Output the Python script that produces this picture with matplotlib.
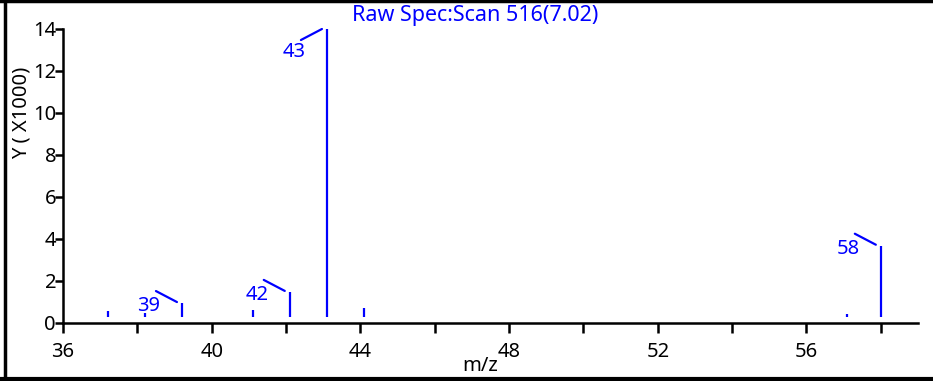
#!/usr/bin/env python3

import matplotlib
matplotlib.use("Agg")
import matplotlib.pyplot as plt
import matplotlib.transforms as mtransforms
from matplotlib.lines import Line2D

# peaks of the mass spectrum (m/z, intensity in thousands)
mz = [37.2, 38.2, 39.2, 41.1, 42.1, 43.1, 44.1, 57.1, 58.0]
intensity = [0.57, 0.5, 0.95, 0.62, 1.48, 14.0, 0.72, 0.43, 3.68]

# labelled peaks
labelPeaks = [39.2, 42.1, 43.1, 58.0]
labelTexts = ["39", "42", "43", "58"]

xTicks = [36, 38, 40, 42, 44, 46, 48, 50, 52, 54, 56, 58]
xTickLabels = ["36", "", "40", "", "44", "", "48", "", "52", "", "56", ""]
yTicks = [0, 2, 4, 6, 8, 10, 12, 14]

W, H = 933, 381
FS = 14.5
plt.rcParams['font.family'] = ['Noto Sans', 'DejaVu Sans']

fig = plt.figure(figsize=(W / 100, H / 100), dpi=100)
ax = fig.add_axes([63 / W, 1 - 323 / H, (918 - 63) / W, (323 - 29) / H])

blue = "#0000ff"
baseline = 0.27
ax.vlines(mz, baseline, intensity, color=blue, linewidth=1.6)

ax.set_xlim(36, 59)
ax.set_ylim(0, 14)
ax.set_xticks(xTicks)
ax.set_xticklabels(xTickLabels)
ax.set_yticks(yTicks)
for s in ["top", "right"]:
    ax.spines[s].set_visible(False)
for s in ["left", "bottom"]:
    ax.spines[s].set_linewidth(1.8)
ax.tick_params(axis="x", length=7, width=1.8, pad=7, labelsize=FS)
ax.tick_params(axis="y", length=6, width=1.8, pad=-1, labelsize=FS)

fig.text(22 / W, 1 - 113 / H, "Y ( X1000)", rotation=90, ha="center",
         va="center", fontsize=FS)

# peak labels with small connector lines
for x, txt in zip(labelPeaks, labelTexts):
    y = intensity[mz.index(x)]
    if y > 13:
        textOff = (-33, -23)
        lineStart = (-21, -11)
        lineEnd = (-5, 0)
    else:
        textOff = (-33, -3)
        lineStart = (-21, 11)
        lineEnd = (-5, 1)
    ax.annotate(txt, xy=(x, y), xytext=textOff, textcoords="offset pixels",
                ha="center", va="center", color=blue, fontsize=FS)
    endTrans = mtransforms.offset_copy(ax.transData, fig=fig, x=lineEnd[0],
                                       y=lineEnd[1], units="dots")
    ax.annotate("", xy=(x, y), xycoords=endTrans, xytext=lineStart,
                textcoords="offset pixels",
                arrowprops=dict(arrowstyle="-", color=blue, linewidth=1.6,
                                shrinkA=0, shrinkB=0))

fig.text(475 / W, 1 - 16 / H, "Raw Spec:Scan 516(7.02)", color=blue,
         ha="center", va="center", fontsize=15.5)
fig.text(480 / W, 1 - 366 / H, "m/z", ha="center", va="center", fontsize=FS)

# frame around the picture (left, top, bottom)
fig.add_artist(Line2D([5 / W, 5 / W], [0, 1], color="black", linewidth=2.5, zorder=10))
fig.add_artist(Line2D([0, 1], [1 - 1 / H, 1 - 1 / H], color="black", linewidth=2.5, zorder=10))
fig.add_artist(Line2D([0, 1], [1 - 379 / H, 1 - 379 / H], color="black", linewidth=3, zorder=10))

fig.savefig("out.png", dpi=100)
